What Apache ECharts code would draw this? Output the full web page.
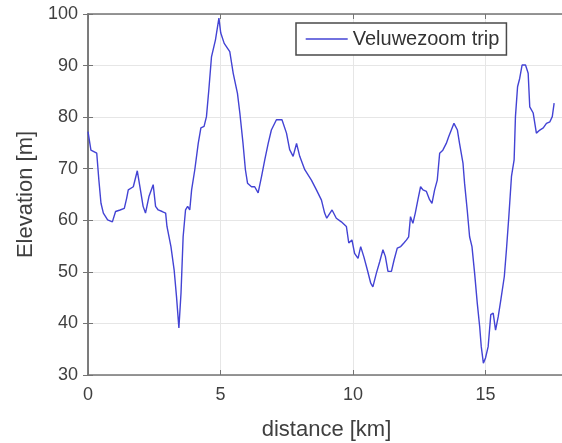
<!DOCTYPE html>
<html>
<head>
<meta charset="utf-8">
<script src="https://cdn.jsdelivr.net/npm/echarts@6/dist/echarts.min.js"></script>
<style>
  html, body { margin: 0; padding: 0; background: #ffffff; }
  #chart { width: 562px; height: 443px; }
</style>
</head>
<body>
<div id="chart"></div>
<script>
// Elevation profile of the Veluwezoom trip
const distanceKm = [
  0.00, 0.11, 0.33, 0.41, 0.49, 0.58, 0.74, 0.92, 1.04, 1.21, 1.37, 1.46, 1.52, 1.71, 1.86, 1.96,
  2.08, 2.17, 2.30, 2.46, 2.55, 2.65, 2.80, 2.93, 2.98, 3.13, 3.25, 3.34, 3.43, 3.51, 3.59, 3.68,
  3.76, 3.84, 3.91, 4.03, 4.16, 4.26, 4.38, 4.47, 4.56, 4.66, 4.81, 4.94, 5.01, 5.14, 5.35, 5.48,
  5.64, 5.73, 5.85, 5.94, 6.02, 6.17, 6.29, 6.42, 6.55, 6.67, 6.80, 6.92, 7.11, 7.32, 7.49, 7.61,
  7.74, 7.87, 7.99, 8.18, 8.43, 8.62, 8.81, 8.93, 9.01, 9.08, 9.21, 9.37, 9.56, 9.75, 9.84, 9.96,
  10.06, 10.19, 10.29, 10.41, 10.54, 10.67, 10.75, 10.88, 11.01, 11.13, 11.22, 11.32, 11.45, 11.55,
  11.67, 11.80, 11.92, 12.02, 12.10, 12.17, 12.26, 12.35, 12.45, 12.55, 12.64, 12.77, 12.89, 12.98,
  13.08, 13.18, 13.27, 13.39, 13.52, 13.61, 13.71, 13.81, 13.94, 14.02, 14.15, 14.21, 14.31, 14.40,
  14.49, 14.59, 14.69, 14.78, 14.84, 14.92, 15.00, 15.10, 15.20, 15.29, 15.38, 15.48, 15.58, 15.71,
  15.79, 15.88, 15.98, 16.08, 16.13, 16.21, 16.29, 16.38, 16.51, 16.61, 16.67, 16.80, 16.92, 17.05,
  17.18, 17.30, 17.43, 17.52, 17.59
];
const elevationM = [
  77.2, 73.6, 73.0, 67.8, 63.3, 61.4, 60.1, 59.7, 61.7, 62.0, 62.3, 64.3, 65.9, 66.5, 69.6, 66.5,
  62.7, 61.4, 64.6, 66.9, 62.7, 62.0, 61.7, 61.4, 58.8, 54.9, 50.4, 45.2, 39.1, 45.9, 56.8, 62.0,
  62.7, 62.0, 65.9, 69.8, 74.9, 77.9, 78.2, 80.1, 85.3, 91.7, 95.0, 99.2, 96.3, 94.3, 92.7, 88.5,
  84.6, 80.8, 74.9, 69.8, 67.2, 66.5, 66.5, 65.3, 68.5, 71.7, 74.9, 77.5, 79.5, 79.5, 76.9, 73.7,
  72.4, 74.9, 72.4, 69.8, 67.8, 65.9, 63.9, 61.4, 60.4, 60.7, 62.0, 60.4, 59.7, 58.8, 55.6, 56.2,
  53.6, 52.6, 54.9, 52.9, 50.4, 47.8, 47.1, 49.7, 52.0, 54.3, 53.0, 50.1, 50.1, 52.3,
  54.6, 54.9, 55.6, 56.2, 56.8, 60.7, 59.4, 61.4, 64.0, 66.5, 65.9, 65.6, 64.0, 63.3,
  65.9, 67.8, 73.0, 73.6, 74.9, 76.2, 77.5, 78.8, 77.5, 74.9, 71.1, 67.2, 62.0, 56.8,
  54.9, 49.7, 43.9, 39.4, 35.5, 32.3, 33.3, 35.5, 41.7, 42.0, 38.7, 41.3, 44.6, 49.1,
  54.3, 60.7, 68.5, 71.7, 80.1, 85.9, 87.5, 90.1, 90.1, 88.5, 82.0, 80.8, 76.9, 77.5,
  77.9, 78.8, 79.1, 80.1, 82.7
];
const seriesName = 'Veluwezoom trip';
const xTickStep = 5;
const yTickStep = 10;

const profile = distanceKm.map((d, i) => [d, elevationM[i]]);

const FONT = 'Liberation Sans, Arial, Helvetica, sans-serif';
const TEXT = '#3f3f3f';
const AXIS = '#747474';
const GRIDLINE = '#e6e6e6';
const LINE = '#4343d4';

const chart = echarts.init(document.getElementById('chart'), null, { renderer: 'canvas' });

const hiddenAxisBase = {
  axisLabel: { show: false },
  splitLine: { show: false },
  axisLine: { show: true, lineStyle: { color: AXIS, width: 1.5 } },
  axisTick: { show: true, inside: true, length: 5, lineStyle: { color: AXIS } }
};

chart.setOption({
  animation: false,
  backgroundColor: '#ffffff',
  grid: {
    left: 88, top: 14, right: -3, bottom: 68,
    containLabel: false,
    outerBoundsMode: 'none'
  },
  legend: {
    show: true,
    data: [seriesName],
    left: 296, top: 23,
    padding: [6, 7, 6, 9],
    itemWidth: 42, itemHeight: 12,
    itemStyle: { opacity: 0 },
    lineStyle: { color: LINE, width: 1.4 },
    backgroundColor: '#ffffff',
    borderColor: '#4a4a4a', borderWidth: 1.5,
    textStyle: { fontFamily: FONT, fontSize: 20, color: '#333333' }
  },
  xAxis: [
    {
      type: 'value', min: 0, max: 18, interval: xTickStep,
      name: 'distance [km]', nameLocation: 'middle', nameGap: 44,
      nameTextStyle: { fontFamily: FONT, fontSize: 22, color: TEXT },
      axisLine: { show: true, onZero: false, lineStyle: { color: AXIS, width: 1.5 } },
      axisTick: { show: true, inside: true, length: 5, lineStyle: { color: AXIS } },
      axisLabel: { fontFamily: FONT, fontSize: 18, color: TEXT, margin: 11, showMaxLabel: false },
      splitLine: { show: true, lineStyle: { color: GRIDLINE, width: 1 } }
    },
    Object.assign({ type: 'value', position: 'top', min: 0, max: 18, interval: xTickStep }, hiddenAxisBase)
  ],
  yAxis: [
    {
      type: 'value', min: 30, max: 100, interval: yTickStep,
      name: 'Elevation [m]', nameLocation: 'middle', nameGap: 50,
      nameTextStyle: { fontFamily: FONT, fontSize: 22, color: TEXT },
      axisLine: { show: true, onZero: false, lineStyle: { color: AXIS, width: 1.5 } },
      axisTick: { show: true, inside: true, length: 5, lineStyle: { color: AXIS } },
      axisLabel: { fontFamily: FONT, fontSize: 18, color: TEXT, margin: 10 },
      splitLine: { show: true, lineStyle: { color: GRIDLINE, width: 1 } }
    },
    Object.assign({ type: 'value', position: 'right', min: 30, max: 100, interval: yTickStep }, hiddenAxisBase)
  ],
  series: [
    {
      name: seriesName,
      type: 'line',
      data: profile,
      symbol: 'none',
      showSymbol: false,
      smooth: false,
      color: LINE,
      lineStyle: { color: LINE, width: 1.4 },
      emphasis: { disabled: true }
    }
  ]
});
</script>
</body>
</html>
